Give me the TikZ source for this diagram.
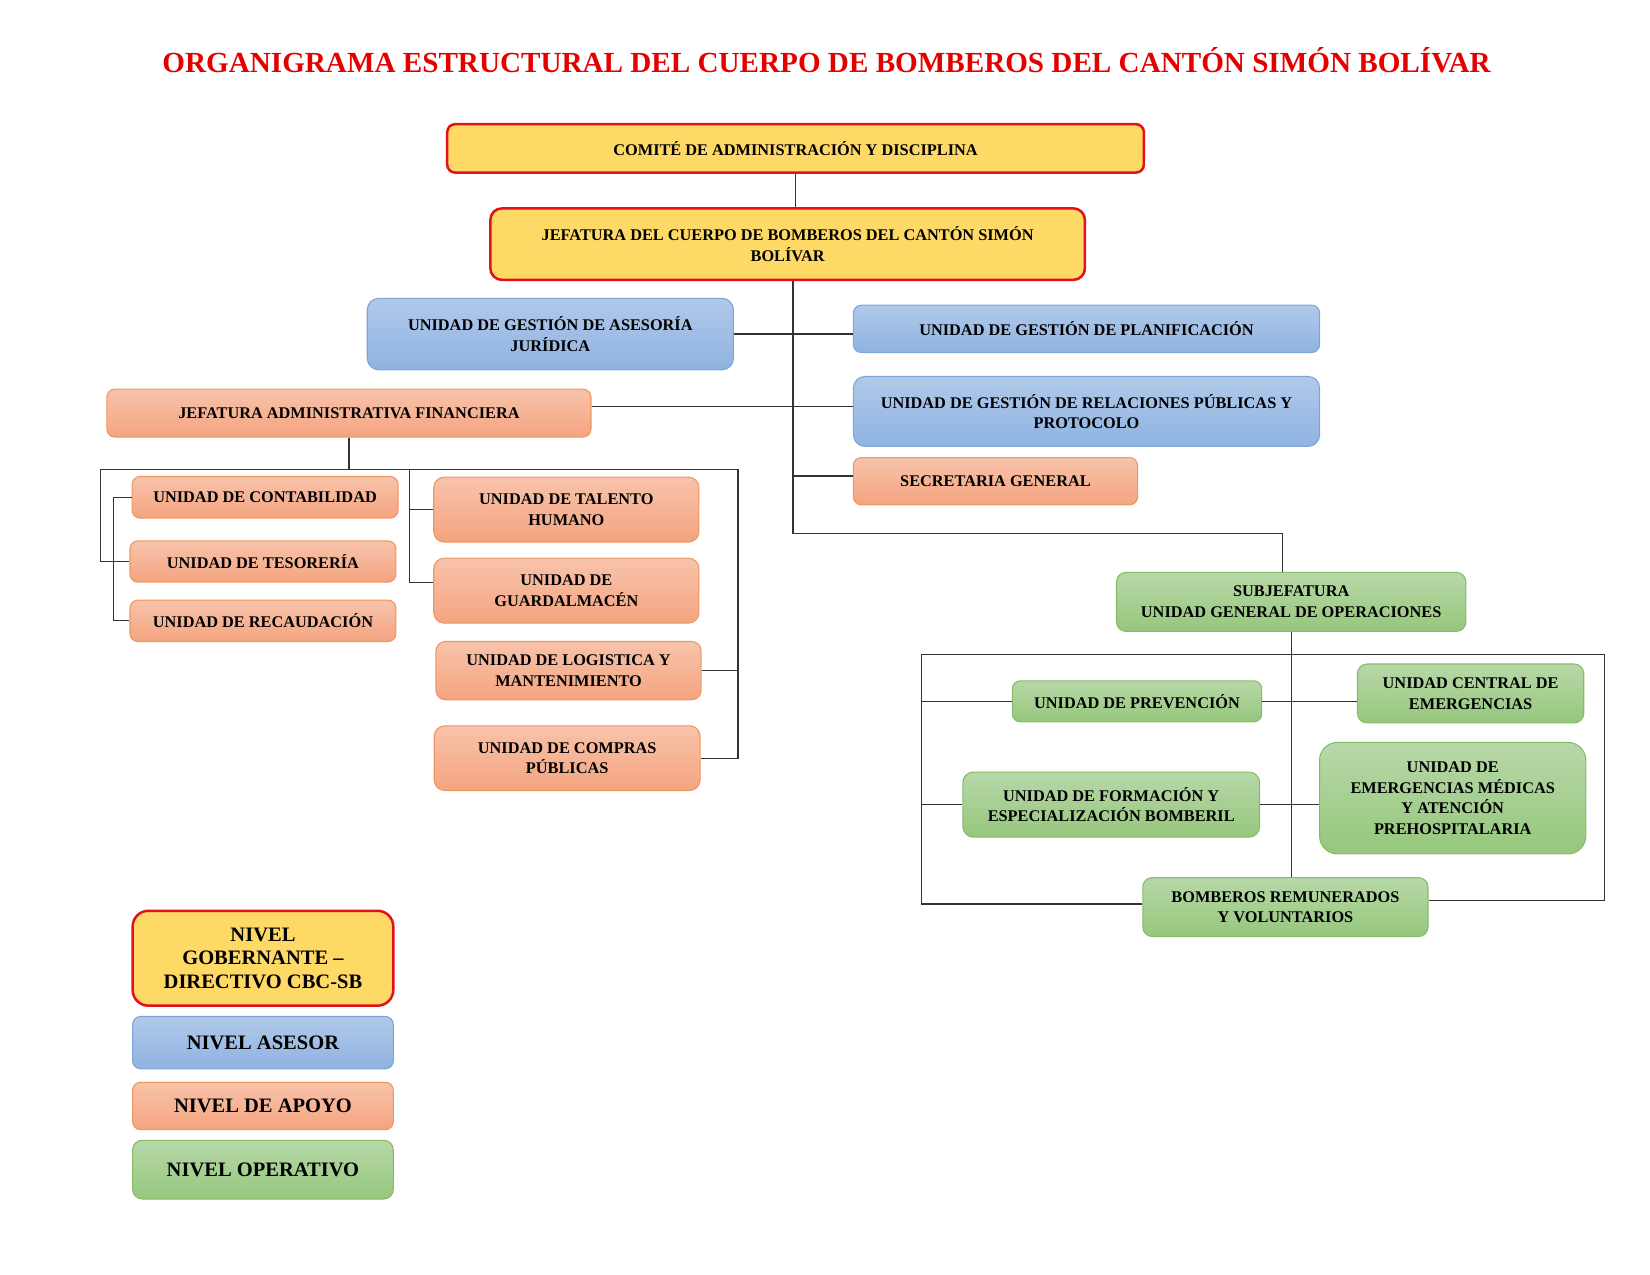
\documentclass[tikz,border=0pt]{standalone}
\usepackage{fontspec}
\setmainfont{Liberation Serif}

\definecolor{gobfill}{HTML}{FFD966}
\definecolor{gobdraw}{HTML}{E3111B}
\definecolor{asetop}{HTML}{B1C9EA}
\definecolor{asebot}{HTML}{8FB3E1}
\definecolor{asedraw}{HTML}{7DA4D6}
\definecolor{apotop}{HTML}{F8C3AB}
\definecolor{apobot}{HTML}{F4A47F}
\definecolor{apodraw}{HTML}{EE9660}
\definecolor{opetop}{HTML}{B7D8A8}
\definecolor{opebot}{HTML}{96C77C}
\definecolor{opedraw}{HTML}{86BA69}
\definecolor{linea}{HTML}{333333}
\definecolor{rojotit}{HTML}{E50000}

\tikzset{
  caja/.style={rounded corners=7.5, align=center, inner sep=2pt,
    font=\fontsize{15.5}{19.6}\selectfont\bfseries},
  gob/.style={caja, draw=gobdraw, line width=2.4, fill=gobfill},
  ase/.style={caja, draw=asedraw, line width=1, top color=asetop, bottom color=asebot},
  apo/.style={caja, draw=apodraw, line width=1, top color=apotop, bottom color=apobot},
  ope/.style={caja, draw=opedraw, line width=1, top color=opetop, bottom color=opebot},
  ley/.style={font=\fontsize{19.5}{22.2}\selectfont\bfseries},
  conector/.style={draw=linea, line width=1.2},
}

\begin{document}
\begin{tikzpicture}[x=1pt, y=-1pt]
    \useasboundingbox (0,0) rectangle (1568,1211.6);

    % Title
    \node[text=rojotit, font=\fontsize{27.7}{30}\selectfont\bfseries] (titulo) at (785.5,57)
      {ORGANIGRAMA ESTRUCTURAL DEL CUERPO DE BOMBEROS DEL CANTÓN SIMÓN BOLÍVAR};

    % Define nodes
    \node[gob, minimum width=662, minimum height=46]                     (comite)     at (756,141)     {COMITÉ DE ADMINISTRACIÓN Y DISCIPLINA};
    \node[gob, rounded corners=11, minimum width=565, minimum height=68] (jefatura)   at (748.5,232)   {JEFATURA DEL CUERPO DE BOMBEROS DEL CANTÓN SIMÓN\\BOLÍVAR};

    % asesor level
    \node[ase, rounded corners=11, minimum width=348, minimum height=68] (asesoria)   at (523,317.5)   {UNIDAD DE GESTIÓN DE ASESORÍA\\JURÍDICA};
    \node[ase, minimum width=443, minimum height=45]                     (planif)     at (1032.5,312.5) {UNIDAD DE GESTIÓN DE PLANIFICACIÓN};
    \node[ase, rounded corners=11, minimum width=443, minimum height=66.5] (relaciones) at (1032.5,391) {UNIDAD DE GESTIÓN DE RELACIONES PÚBLICAS Y\\PROTOCOLO};

    % apoyo level
    \node[apo, minimum width=270, minimum height=45]                     (secretaria) at (946,457.3)   {SECRETARIA GENERAL};
    \node[apo, minimum width=460, minimum height=45.5]                   (jefadm)     at (331.6,392.6) {JEFATURA ADMINISTRATIVA FINANCIERA};
    \node[apo, minimum width=252.7, minimum height=39.6]                 (contab)     at (251.9,472.6) {UNIDAD DE CONTABILIDAD};
    \node[apo, minimum width=252.7, minimum height=39.2]                 (tesoreria)  at (249.9,533.6) {UNIDAD DE TESORERÍA};
    \node[apo, minimum width=252.7, minimum height=39.3]                 (recaudacion) at (249.9,590)  {UNIDAD DE RECAUDACIÓN};
    \node[apo, rounded corners=10, minimum width=252, minimum height=61.7] (talento)  at (538.2,484.3) {UNIDAD DE TALENTO\\HUMANO};
    \node[apo, rounded corners=10, minimum width=252, minimum height=61.8] (guardalmacen) at (538.2,561.3) {UNIDAD DE\\GUARDALMACÉN};
    \node[apo, rounded corners=9, minimum width=252, minimum height=55.4] (logistica) at (540.3,637.3) {UNIDAD DE LOGISTICA Y\\MANTENIMIENTO};
    \node[apo, rounded corners=10, minimum width=252.7, minimum height=61.5] (compras) at (539,720.5)  {UNIDAD DE COMPRAS\\PÚBLICAS};

    % operativo level
    \node[ope, rounded corners=9, minimum width=332, minimum height=56]  (subjef)     at (1227,572)    {SUBJEFATURA\\UNIDAD GENERAL DE OPERACIONES};
    \node[ope, minimum width=237, minimum height=39]                     (prevencion) at (1080.5,666.5) {UNIDAD DE PREVENCIÓN};
    \node[ope, rounded corners=9, minimum width=215, minimum height=56]  (central)    at (1397.5,659)  {UNIDAD CENTRAL DE\\EMERGENCIAS};
    \node[ope, rounded corners=10, minimum width=282, minimum height=61.8] (formacion) at (1056,764.6)  {UNIDAD DE FORMACIÓN Y\\ESPECIALIZACIÓN BOMBERIL};
    \node[ope, rounded corners=17, minimum width=253, minimum height=106] (medicas)    at (1380.5,758.5) {UNIDAD DE\\EMERGENCIAS MÉDICAS\\Y ATENCIÓN\\PREHOSPITALARIA};
    \node[ope, rounded corners=9, minimum width=271, minimum height=56]  (bomberos)   at (1221.5,862)  {BOMBEROS REMUNERADOS\\Y VOLUNTARIOS};

    % Legend
    \node[gob, ley, rounded corners=15, minimum width=247.7, minimum height=90.2] (nivgob) at (249.9,910.6) {NIVEL\\GOBERNANTE --\\DIRECTIVO CBC-SB};
    \node[ase, ley, minimum width=247.7, minimum height=49.7] (nivase) at (249.9,990.8)  {NIVEL ASESOR};
    \node[apo, ley, minimum width=247.7, minimum height=45]   (nivapo) at (249.9,1051)   {NIVEL DE APOYO};
    \node[ope, ley, rounded corners=9, minimum width=247.7, minimum height=55.8] (nivope) at (249.9,1111.5) {NIVEL OPERATIVO};

    % Connect the nodes
    \coordinate (tr) at (753.5,507);
    \coordinate (ja) at ([yshift=6]jefadm.east);
    \coordinate (sg) at ([yshift=5]secretaria.west);
    \draw[conector] (comite.south) -- (comite.south |- jefatura.north);
    \draw[conector] (tr |- jefatura.south) -- (tr) -| ([xshift=-8]subjef.north);
    \draw[conector] (asesoria.east) -- (planif.west |- asesoria.east);
    \draw[conector] (ja) -- (ja -| relaciones.west);
    \draw[conector] (tr |- sg) -- (sg);

    % apoyo branches
    \coordinate (adL) at (95.5,446);
    \coordinate (adM) at (389.4,446);
    \coordinate (adR) at (701.2,446);
    \draw[conector] (jefadm.south) -- (jefadm.south |- adL);
    \draw[conector] (tesoreria.west) -| (adL) -- (adR) |- (compras.east);
    \draw[conector] (logistica.east) -- (logistica.east -| adR);
    \draw[conector] (contab.west) -- ++(-17,0) |- (recaudacion.west);
    \draw[conector] (talento.west) -| (adM) |- ([yshift=8]guardalmacen.west);

    % operativo branches
    \coordinate (opL) at (876,622);
    \coordinate (opR) at (1525,622);
    \draw[conector] (subjef.south) -- (subjef.south |- bomberos.north);
    \draw[conector] ([yshift=3]bomberos.west) -| (opL) -- (opR) |- ([yshift=6]bomberos.east);
    \draw[conector] (opL |- prevencion.west) -- (prevencion.west);
    \draw[conector] (prevencion.east) -- (central.west |- prevencion.east);
    \draw[conector] (opL |- formacion.west) -- (formacion.west);
    \draw[conector] (formacion.east) -- (medicas.west |- formacion.east);

\end{tikzpicture}
\end{document}
